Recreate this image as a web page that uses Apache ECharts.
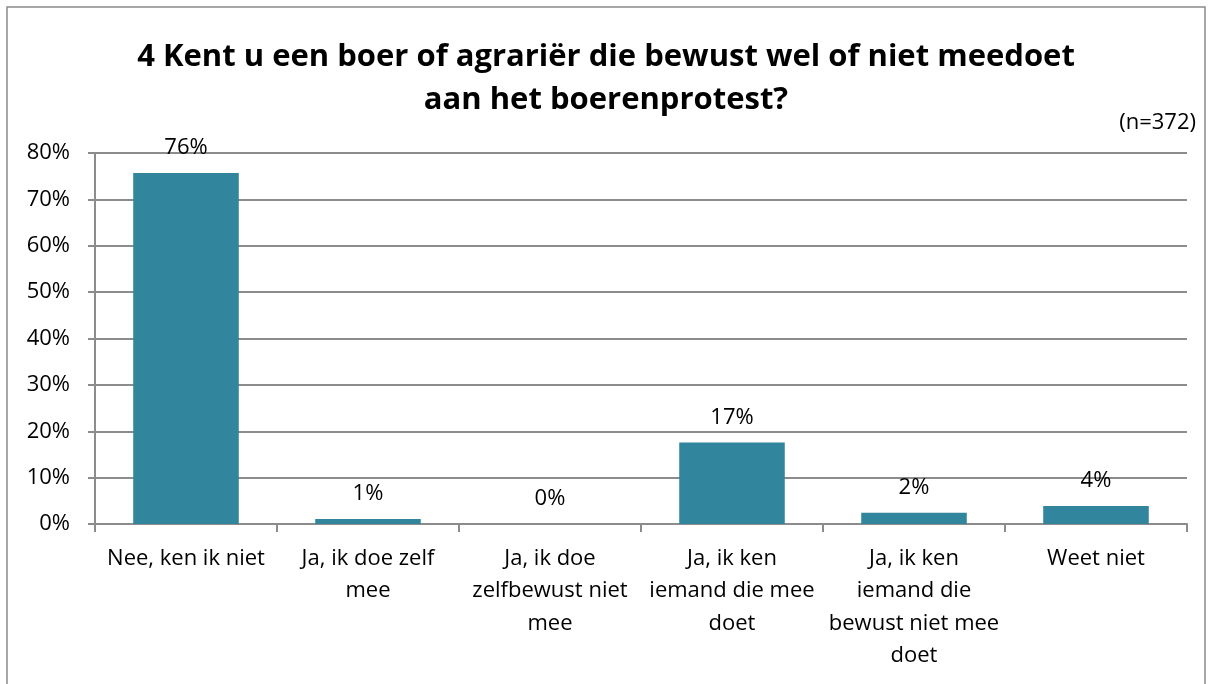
<!DOCTYPE html>
<html>
<head>
<meta charset="utf-8">
<script src="https://cdn.jsdelivr.net/npm/echarts@6/dist/echarts.min.js"></script>
<style>
  html, body { margin: 0; padding: 0; background: #fff; }
  #chart { width: 1212px; height: 684px; }
</style>
</head>
<body>
<div id="chart"></div>
<script>
	// categories and values
	var categories = [
		'Nee, ken ik niet',
		'Ja, ik doe zelf\nmee',
		'Ja, ik doe\nzelfbewust niet\nmee',
		'Ja, ik ken\niemand die mee\ndoet',
		'Ja, ik ken\niemand die\nbewust niet mee\ndoet',
		'Weet niet'
	];
	var values = [75.7, 1.1, 0, 17.6, 2.4, 3.9];
	var valueLabels = ['76%', '1%', '0%', '17%', '2%', '4%'];
	var yTicks = [0, 10, 20, 30, 40, 50, 60, 70, 80];

	var font = 'Open Sans';
	var chart = echarts.init(document.getElementById('chart'));
	var option = {
		animation: false,
		title: {
			text: '4 Kent u een boer of agrariër die bewust wel of niet meedoet\naan het boerenprotest?',
			left: 'center',
			top: 31,
			textStyle: {
				fontFamily: font,
				fontWeight: 'bold',
				fontSize: 31,
				lineHeight: 43,
				color: '#000'
			}
		},
		graphic: [{
			type: 'rect',
			shape: { x: 7, y: 7, width: 1198, height: 690 },
			style: { fill: 'none', stroke: '#8a8a8a', lineWidth: 1.5 }
		}, {
			type: 'text',
			right: 16,
			top: 112,
			style: { text: '(n=372)', font: '22px "Open Sans"', fill: '#000' }
		}],
		grid: {
			left: 95,
			right: 25,
			top: 153,
			bottom: 160
		},
		xAxis: {
			type: 'category',
			data: categories,
			axisLine: { lineStyle: { color: '#8c8c8c', width: 2 } },
			axisTick: { show: true, alignWithLabel: false, length: 8, lineStyle: { color: '#8c8c8c', width: 2 } },
			axisLabel: {
				interval: 0,
				fontFamily: font,
				fontSize: 22,
				lineHeight: 32.5,
				margin: 18,
				color: '#000'
			}
		},
		yAxis: {
			type: 'value',
			min: yTicks[0],
			max: yTicks[yTicks.length - 1],
			interval: 10,
			axisLine: { show: true, lineStyle: { color: '#8c8c8c', width: 2 } },
			axisTick: { show: true, length: 7, lineStyle: { color: '#8c8c8c', width: 2 } },
			splitLine: { lineStyle: { color: '#8c8c8c', width: 2 } },
			axisLabel: {
				fontFamily: font,
				fontSize: 22,
				margin: 25,
				color: '#000',
				formatter: function(v) { return v + '%'; }
			}
		},
		series: [{
			type: 'bar',
			data: values,
			barWidth: '58%',
			itemStyle: { color: '#31859c' },
			label: {
				show: true,
				position: 'top',
				distance: 14,
				fontFamily: font,
				fontSize: 22,
				color: '#000',
				formatter: function(p) { return valueLabels[p.dataIndex]; }
			}
		}]
	};
	chart.setOption(option);
</script>
</body>
</html>
